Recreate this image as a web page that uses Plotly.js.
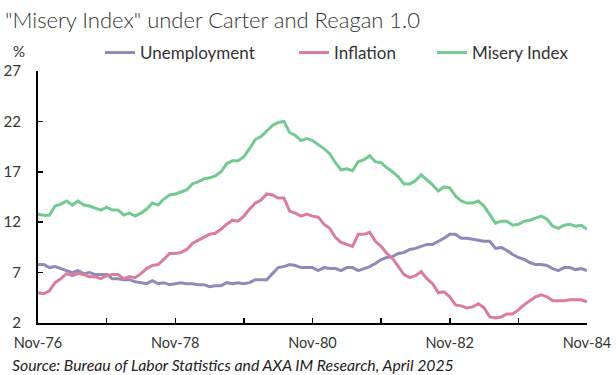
<!DOCTYPE html>
<html>
<head>
<meta charset="utf-8">
<script src="https://cdn.plot.ly/plotly-3.0.1.min.js"></script>
<style>html,body{margin:0;padding:0;background:#fff;}#chart{width:616px;height:375px;}</style>
</head>
<body>
<div id="chart"></div>
<script>
const months = [
  'Nov-76','Dec-76',
  'Jan-77','Feb-77','Mar-77','Apr-77','May-77','Jun-77','Jul-77','Aug-77','Sep-77','Oct-77','Nov-77','Dec-77',
  'Jan-78','Feb-78','Mar-78','Apr-78','May-78','Jun-78','Jul-78','Aug-78','Sep-78','Oct-78','Nov-78','Dec-78',
  'Jan-79','Feb-79','Mar-79','Apr-79','May-79','Jun-79','Jul-79','Aug-79','Sep-79','Oct-79','Nov-79','Dec-79',
  'Jan-80','Feb-80','Mar-80','Apr-80','May-80','Jun-80','Jul-80','Aug-80','Sep-80','Oct-80','Nov-80','Dec-80',
  'Jan-81','Feb-81','Mar-81','Apr-81','May-81','Jun-81','Jul-81','Aug-81','Sep-81','Oct-81','Nov-81','Dec-81',
  'Jan-82','Feb-82','Mar-82','Apr-82','May-82','Jun-82','Jul-82','Aug-82','Sep-82','Oct-82','Nov-82','Dec-82',
  'Jan-83','Feb-83','Mar-83','Apr-83','May-83','Jun-83','Jul-83','Aug-83','Sep-83','Oct-83','Nov-83','Dec-83',
  'Jan-84','Feb-84','Mar-84','Apr-84','May-84','Jun-84','Jul-84','Aug-84','Sep-84','Oct-84','Nov-84'
];

const unemployment = [
  7.8, 7.8,
  7.5, 7.6, 7.4, 7.2, 7.0, 7.2, 6.9, 7.0, 6.8, 6.8, 6.8, 6.4,
  6.4, 6.3, 6.3, 6.1, 6.0, 5.9, 6.2, 5.9, 6.0, 5.8, 5.9, 6.0,
  5.9, 5.9, 5.8, 5.8, 5.6, 5.7, 5.7, 6.0, 5.9, 6.0, 5.9, 6.0,
  6.3, 6.3, 6.3, 6.9, 7.5, 7.6, 7.8, 7.7, 7.5, 7.5, 7.5, 7.2,
  7.5, 7.4, 7.4, 7.2, 7.5, 7.5, 7.2, 7.4, 7.6, 7.9, 8.3, 8.5,
  8.6, 8.9, 9.0, 9.3, 9.4, 9.6, 9.8, 9.8, 10.1, 10.4, 10.8, 10.8,
  10.4, 10.4, 10.3, 10.2, 10.1, 10.1, 9.4, 9.5, 9.2, 8.8, 8.5, 8.3,
  8.0, 7.8, 7.8, 7.7, 7.4, 7.2, 7.5, 7.5, 7.3, 7.4, 7.2
];

const inflation = [
  5.0, 4.9,
  5.2, 6.0, 6.4, 6.9, 6.7, 6.9, 6.8, 6.6, 6.6, 6.4, 6.7, 6.8,
  6.8, 6.4, 6.6, 6.5, 6.9, 7.4, 7.7, 7.8, 8.3, 8.9, 8.9, 9.0,
  9.3, 9.9, 10.2, 10.5, 10.8, 10.9, 11.3, 11.8, 12.2, 12.1, 12.6, 13.3,
  13.9, 14.2, 14.8, 14.7, 14.4, 14.4, 13.1, 12.9, 12.6, 12.8, 12.6, 12.5,
  11.8, 11.4, 10.5, 10.0, 9.8, 9.6, 10.8, 10.8, 11.0, 10.1, 9.6, 8.9,
  8.4, 7.6, 6.8, 6.5, 6.7, 7.1, 6.4, 5.9, 5.0, 5.1, 4.6, 3.8,
  3.7, 3.5, 3.6, 3.9, 3.5, 2.6, 2.5, 2.6, 2.9, 2.9, 3.3, 3.8,
  4.2, 4.6, 4.8, 4.6, 4.2, 4.2, 4.2, 4.3, 4.3, 4.3, 4.1
];

const miseryIndex = [
  12.8, 12.7,
  12.7, 13.6, 13.8, 14.1, 13.7, 14.1, 13.7, 13.6, 13.4, 13.2, 13.5, 13.2,
  13.2, 12.7, 12.9, 12.6, 12.9, 13.3, 13.9, 13.7, 14.3, 14.7, 14.8, 15.0,
  15.2, 15.8, 16.0, 16.3, 16.4, 16.6, 17.0, 17.8, 18.1, 18.1, 18.5, 19.3,
  20.2, 20.5, 21.1, 21.6, 21.9, 22.0, 20.9, 20.6, 20.1, 20.3, 20.1, 19.7,
  19.3, 18.8, 17.9, 17.2, 17.3, 17.1, 18.0, 18.2, 18.6, 18.0, 17.9, 17.4,
  17.0, 16.5, 15.8, 15.8, 16.1, 16.7, 16.2, 15.7, 15.1, 15.5, 15.4, 14.6,
  14.1, 13.9, 13.9, 14.1, 13.6, 12.7, 11.9, 12.1, 12.1, 11.7, 11.8, 12.1,
  12.2, 12.4, 12.6, 12.3, 11.6, 11.4, 11.7, 11.8, 11.6, 11.7, 11.3
];

const xTickVals = ['Nov-76','Nov-77','Nov-78','Nov-79','Nov-80','Nov-81','Nov-82','Nov-83','Nov-84'];
const xTickText = ['Nov-76','','Nov-78','','Nov-80','','Nov-82','','Nov-84'];
const yTickVals = [2, 7, 12, 17, 22, 27];

const FONT = 'Lato, "Open Sans", sans-serif';

const traces = [
  {x: months, y: unemployment, name: 'Unemployment', type: 'scatter', mode: 'lines',
   line: {color: '#8F8BB8', width: 3}, legend: 'legend'},
  {x: months, y: inflation, name: 'Inflation', type: 'scatter', mode: 'lines',
   line: {color: '#DA7C9D', width: 3}, legend: 'legend2'},
  {x: months, y: miseryIndex, name: 'Misery Index', type: 'scatter', mode: 'lines',
   line: {color: '#74C993', width: 3}, legend: 'legend3'}
];

const legendBase = {
  xref: 'container', yref: 'container', xanchor: 'left', yanchor: 'middle',
  orientation: 'h', bgcolor: 'rgba(0,0,0,0)', borderwidth: 0,
  font: {family: FONT, size: 17, color: '#333'}, y: 1 - 53/375
};

// plot area: left 38, right 587, top 62, bottom 323
const PL = 38, PT = 62, PW = 549, PH = 261;

const layout = {
  width: 616, height: 375,
  paper_bgcolor: '#fff', plot_bgcolor: '#fff',
  margin: {l: PL, r: 616 - PL - PW, t: PT, b: 375 - PT - PH},
  font: {family: FONT, color: '#333'},
  title: {text: '"Misery Index" under Carter and Reagan 1.0',
          font: {family: FONT, size: 22, color: '#333', weight: 300},
          x: 5/616, xanchor: 'left', xref: 'container',
          y: 1 - 20/375, yanchor: 'middle', yref: 'container'},
  showlegend: true,
  legend: Object.assign({}, legendBase, {x: 100/616}),
  legend2: Object.assign({}, legendBase, {x: 294/616}),
  legend3: Object.assign({}, legendBase, {x: 432/616}),
  xaxis: {
    type: 'category', range: [0, months.length - 1],
    tickmode: 'array', tickvals: xTickVals, ticktext: xTickText,
    ticks: 'inside', ticklen: 5, tickwidth: 1.5, tickcolor: '#000',
    showline: true, linecolor: '#000', linewidth: 2,
    showgrid: false, zeroline: false,
    tickfont: {family: FONT, size: 14.5, color: '#333'},
    ticklabelstandoff: 6, fixedrange: true
  },
  yaxis: {
    range: [2, 27], tickmode: 'array', tickvals: yTickVals,
    ticks: 'inside', ticklen: 5, tickwidth: 1.5, tickcolor: '#000',
    showline: true, linecolor: '#000', linewidth: 2,
    showgrid: false, zeroline: false,
    tickfont: {family: FONT, size: 15, color: '#333'},
    ticklabelstandoff: 12, fixedrange: true
  },
  annotations: [
    {text: '%', xref: 'paper', yref: 'paper', x: (19 - PL)/PW, xanchor: 'center',
     y: 1 + (PT - 41)/PH, yanchor: 'middle', showarrow: false,
     font: {family: FONT, size: 15, color: '#333'}},
    {text: '<i>Source: Bureau of Labor Statistics and AXA IM Research, April 2025</i>',
     xref: 'paper', yref: 'paper', x: (10 - PL)/PW, xanchor: 'left',
     y: (PT + PH - 366)/PH, yanchor: 'middle', showarrow: false,
     font: {family: FONT, size: 15.8, color: '#222'}}
  ]
};

Plotly.newPlot('chart', traces, layout, {staticPlot: true, displayModeBar: false});
</script>
</body>
</html>
